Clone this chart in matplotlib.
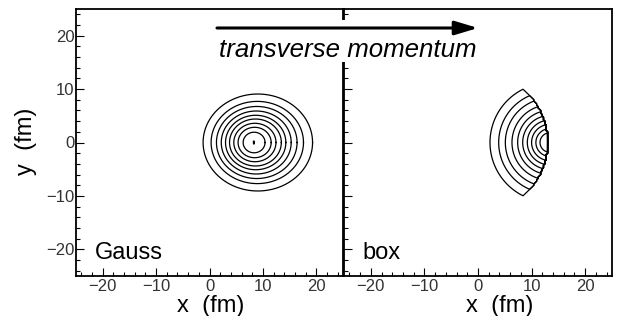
import numpy as np
import matplotlib
matplotlib.use("Agg")
import matplotlib.pyplot as plt
from matplotlib.patches import FancyArrowPatch, Rectangle

plt.rcParams['font.family'] = ['Liberation Sans', 'DejaVu Sans']

# ---------------- data ----------------
axis_limits = [-25, 25]
major_ticks = [-20, -10, 0, 10, 20]
tick_labels = ['\u221220', '\u221210', '0', '10', '20']

# Gauss panel: nested contour ellipses (outer -> inner), in fm
gauss_center_x = [9.05, 8.95, 8.85, 8.75, 8.65, 8.6, 8.5, 8.45, 8.35]
gauss_half_width = [10.25, 8.65, 7.55, 6.55, 5.65, 4.85, 3.95, 3.1, 2.05]
gauss_half_height = [9.08, 7.7, 6.75, 5.9, 5.1, 4.4, 3.6, 2.85, 1.93]
gauss_peak = [8.3, 0.0, 0.08, 0.3]   # x, y, half width, half height of the innermost level

# box panel: arcs centred at box_center_x, clipped by the source edge radius
box_center_x = 13.4
box_edge_radius = 13.15
box_arc_left_x = [2.24, 3.86, 5.1, 6.34, 7.4, 8.34, 9.2, 10.0, 10.8, 11.57]

panel_labels = ['Gauss', 'box']

# ---------------- figure ----------------
W, H = 626, 316
fig = plt.figure(figsize=(W / 100, H / 100), dpi=100)
ax1 = fig.add_axes([76 / W, 40 / H, 267 / W, 267 / H])
ax2 = fig.add_axes([344 / W, 40 / H, 268 / W, 267 / H])

for ax in (ax1, ax2):
    ax.set_xlim(axis_limits)
    ax.set_ylim(axis_limits)
    ax.set_xticks(major_ticks)
    ax.set_xticklabels(tick_labels)
    ax.set_yticks(major_ticks)
    ax.set_xticks(np.arange(-24, 25, 2), minor=True)
    ax.set_yticks(np.arange(-24, 25, 2), minor=True)
    ax.tick_params(which='both', direction='in', top=False, right=False,
                   width=0.8, colors='black', labelcolor='#333333',
                   labelsize=12, pad=2)
    ax.tick_params(which='major', length=6)
    ax.tick_params(which='minor', length=3)
    for s in ax.spines.values():
        s.set_linewidth(1.3)

ax1.set_yticklabels(tick_labels)
ax1.tick_params(axis='y', pad=1)
ax2.set_yticklabels([])

# Gauss contours
t = np.linspace(0, 2 * np.pi, 300)
for cx, a, b in zip(gauss_center_x, gauss_half_width, gauss_half_height):
    ax1.plot(cx + a * np.cos(t), b * np.sin(t), color='black', lw=0.9)
ax1.plot(gauss_peak[0] + gauss_peak[2] * np.cos(t),
         gauss_peak[1] + gauss_peak[3] * np.sin(t), color='black', lw=0.9)

# box contours via matplotlib contour on a field
gx = np.linspace(0, 15, 60)
gy = np.linspace(-12, 12, 97)
X, Y = np.meshgrid(gx, gy)
D = np.hypot(X - box_center_x, Y)
Z = np.where(np.hypot(X, Y) <= box_edge_radius, D, 60.0)
levels = sorted(box_center_x - np.array(box_arc_left_x))
ax2.contour(X, Y, Z, levels=levels, colors='black', linewidths=0.9)

# panel labels
ax1.text(-21.5, -21.8, panel_labels[0], fontsize=17, ha='left', va='baseline')
ax2.text(-21.6, -21.8, panel_labels[1], fontsize=17, ha='left', va='baseline')

# axis labels
fig.text(211 / W, 1 - 306 / H, 'x  (fm)', fontsize=17, ha='center', va='center')
fig.text(500 / W, 1 - 306 / H, 'x  (fm)', fontsize=17, ha='center', va='center')
fig.text(26 / W, 1 - 141 / H, 'y  (fm)', fontsize=17, ha='center', va='center',
         rotation=90)

# white box behind the annotation, arrow and text
fig.add_artist(Rectangle((330 / W, 1 - 62 / H), 30 / W, 42 / H,
                         transform=fig.transFigure, facecolor='white',
                         edgecolor='none', zorder=5))
fig.add_artist(FancyArrowPatch((217 / W, 1 - 28 / H), (478 / W, 1 - 28 / H),
                               transform=fig.transFigure,
                               arrowstyle='-|>,head_length=1.4,head_width=0.42',
                               mutation_scale=10, lw=2.2, color='black',
                               shrinkA=0, shrinkB=0, zorder=6))
fig.text(347.5 / W, 1 - 57 / H, 'transverse momentum', fontsize=18.6,
         style='italic', ha='center', va='baseline', zorder=7)

fig.savefig('out.png', dpi=100)
